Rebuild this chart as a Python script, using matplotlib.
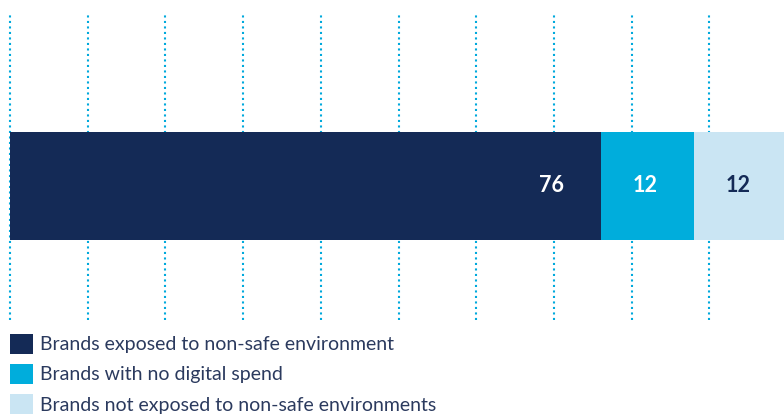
import matplotlib
matplotlib.use('Agg')
from matplotlib import pyplot as plt

plt.rcParams['font.family'] = ['Lato', 'DejaVu Sans']

labels = ['Brands exposed to non-safe environment',
          'Brands with no digital spend',
          'Brands not exposed to non-safe environments']
values = [76, 12, 12]
colors = ['#142a56', '#00addc', '#cae5f3']
text_colors = ['white', 'white', '#142a56']
grid_ticks = [0, 10, 20, 30, 40, 50, 60, 70, 80, 90]

fig = plt.figure(figsize=(7.84, 4.16), dpi=100)
ax = fig.add_axes([10 / 784, 96 / 416, 774 / 784, 307 / 416])
ax.set_xlim(0, 774 / 7.77)
ax.set_ylim(0, 1)

ax.vlines(grid_ticks, 0, 1, colors='#00a9dc', linewidth=1.5,
          linestyles=(0, (1, 1.64)), zorder=0, clip_on=False)

handles = []
left = 0
for lab, v, c, tc in zip(labels, values, colors, text_colors):
    b = ax.barh(0.4365, v, height=0.3518, left=left, color=c, label=lab, zorder=2)
    handles.append(b)
    ax.text(left + v - 4.7, 0.4365, str(v), ha='right', va='center',
            color=tc, fontsize=15.5, fontweight='bold', zorder=3)
    left += v

ax.axis('off')

leg = fig.legend(handles=handles, loc='upper left', bbox_to_anchor=(-4 / 784, 1 - 320 / 416),
                 frameon=False, fontsize=14, handlelength=1.2, handleheight=1.2,
                 handletextpad=0.35, labelspacing=0.53, borderpad=0.2)
for t in leg.get_texts():
    t.set_color('#2b3a5e')

plt.savefig('out.png', dpi=100)
